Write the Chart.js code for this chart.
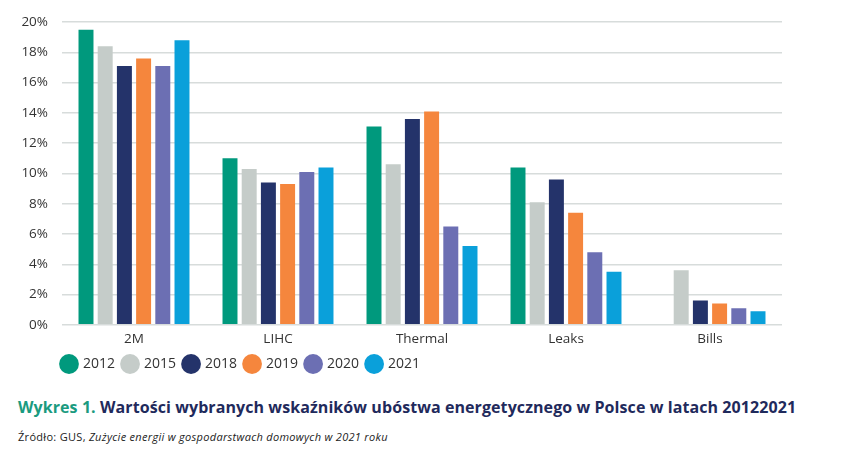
<!DOCTYPE html>
<html lang="pl">
<head>
<meta charset="utf-8">
<script src="https://cdn.jsdelivr.net/npm/chart.js@4/dist/chart.umd.min.js"></script>
<style>
  html, body { margin: 0; padding: 0; background: #fff; }
  body { width: 842px; height: 455px; position: relative; overflow: hidden; font-family: "Open Sans", "Noto Sans", sans-serif; }
  .chart-wrap { position: absolute; left: 0; top: 0; width: 842px; height: 381px; }
  .title { position: absolute; left: 18px; top: 396px; font-size: 16px; font-weight: 700; color: #1f2a5c; white-space: nowrap; letter-spacing: 0.08px; }
  .title .lead { color: #1a9b80; }
  .source { position: absolute; left: 18px; top: 429px; font-size: 11px; color: #222; white-space: nowrap; letter-spacing: 0.3px; }
</style>
</head>
<body>
<div class="chart-wrap"><canvas id="chart"></canvas></div>
<div class="title"><span class="lead">Wykres 1.</span> Wartości wybranych wskaźników ubóstwa energetycznego w Polsce w latach 20122021</div>
<div class="source">Źródło: GUS, <i>Zużycie energii w gospodarstwach domowych w 2021 roku</i></div>

<script>
// ── Dane ─────────────────────────────────────────────────────────────
const categories = ["2M", "LIHC", "Thermal", "Leaks", "Bills"];
const years      = ["2012", "2015", "2018", "2019", "2020", "2021"];

const v2012 = [19.5, 11.0, 13.1, 10.4, null];
const v2015 = [18.4, 10.3, 10.6, 8.1, 3.6];
const v2018 = [17.1, 9.4, 13.6, 9.6, 1.6];
const v2019 = [17.6, 9.3, 14.1, 7.4, 1.4];
const v2020 = [17.1, 10.1, 6.5, 4.8, 1.1];
const v2021 = [18.8, 10.4, 5.2, 3.5, 0.9];

const yTicks = [0, 2, 4, 6, 8, 10, 12, 14, 16, 18, 20];

const seriesValues = [v2012, v2015, v2018, v2019, v2020, v2021];
const colors = ["#00997d", "#c5ccc9", "#24336a", "#f5863d", "#6c6fb3", "#0aa0da"];

const FONT = "'Open Sans', sans-serif";

// legenda zaczyna się pod lewą krawędzią obszaru wykresu
const legendOffset = {
  id: "legendOffset",
  afterLayout(chart) {
    if (chart.legend) chart.legend.left += 54;
  },
};

// ── Wykres ───────────────────────────────────────────────────────────
const datasets = years.map((year, i) => ({
  label: year,
  data: seriesValues[i],
  backgroundColor: colors[i],
  borderWidth: 0,
  categoryPercentage: 0.8,
  barPercentage: 0.78,
}));

new Chart(document.getElementById("chart"), {
  type: "bar",
  data: { labels: categories, datasets },
  plugins: [legendOffset],
  options: {
    responsive: true,
    maintainAspectRatio: false,
    animation: false,
    layout: { padding: { left: 0, right: 60, top: 16, bottom: 0 } },
    plugins: {
      tooltip: { enabled: false },
      legend: {
        position: "bottom",
        align: "start",
        labels: {
          usePointStyle: true,
          pointStyle: "circle",
          boxWidth: 14,
          boxHeight: 14,
          padding: 8,
          color: "#333",
          font: { family: FONT, size: 14 },
        },
      },
    },
    scales: {
      x: {
        afterFit: scale => { scale.height += 4; },
        grid: { display: false },
        border: { display: false },
        ticks: { color: "#333", font: { family: FONT, size: 13.5 }, padding: -2 },
      },
      y: {
        min: 0,
        max: 20,
        afterBuildTicks: scale => { scale.ticks = yTicks.map(v => ({ value: v })); },
        afterFit: scale => { scale.width = 62; },
        grid: { color: "#d7dcdb", lineWidth: 1.5, drawTicks: false },
        border: { display: false },
        ticks: {
          color: "#333",
          padding: 14,
          font: { family: FONT, size: 13.5 },
          callback: v => v + "%",
        },
      },
    },
  },
});
</script>
</body>
</html>
